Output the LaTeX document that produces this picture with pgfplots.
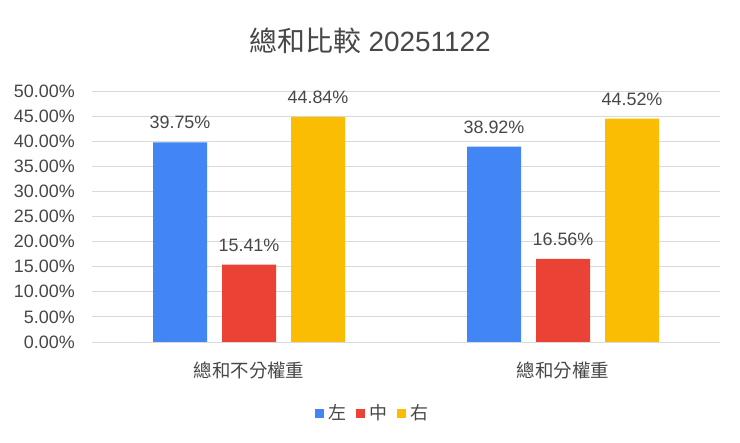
\documentclass[border=0pt]{standalone}
\usepackage{pgfplots}
\pgfplotsset{compat=1.18}
\usepackage{fontspec}
\setmainfont{Liberation Sans}
\newfontfamily\cjk{Noto Sans CJK TC}
\definecolor{cblue}{HTML}{4285F4}
\definecolor{cred}{HTML}{EA4335}
\definecolor{cyellow}{HTML}{FBBC04}
\definecolor{txt}{HTML}{474747}
\definecolor{gridc}{HTML}{D9D9D9}
\begin{document}
\begin{tikzpicture}[x=1bp,y=1bp]
\useasboundingbox[fill=white] (0,0) rectangle (740,443);
\node[text=txt,font=\fontsize{28}{32}\selectfont] at (370,402) {{\cjk 總和比較} 20251122};
\begin{axis}[
  at={(92bp,101bp)}, anchor=south west,
  scale only axis, width=628bp, height=251bp,
  xmin=-0.5, xmax=1.5, ymin=0, ymax=50,
  ytick={0,5,...,50},
  xtick={0,1},
  xticklabels={{\cjk 總和不分權重},{\cjk 總和分權重}},
  axis line style={draw=none},
  major tick length=0pt,
  ymajorgrids, grid style={gridc, line width=0.8bp},
  ybar=15bp, bar width=54bp,
  clip=false,
  /pgf/number format/assume math mode=true,
  yticklabel={\pgfmathprintnumber[fixed,fixed zerofill,precision=2]{\tick}\%},
  yticklabel style={text=txt, font=\fontsize{18}{20}\selectfont, anchor=east, inner sep=0pt, xshift=-17bp},
  xticklabel style={text=txt, font=\fontsize{18.5}{20}\selectfont, anchor=center, inner sep=0pt, yshift=-28bp},
  nodes near coords={\pgfmathprintnumber[fixed,fixed zerofill,precision=2]{\pgfplotspointmeta}\%},
  nodes near coords style={text=txt, font=\fontsize{18}{20}\selectfont, anchor=base, inner sep=0pt, yshift=13.5bp},
  legend columns=3,
  legend style={at={(0.447,-0.283)}, anchor=center, draw=none, fill=none,
    font=\fontsize{18}{20}\selectfont\cjk, text=txt,
    /tikz/every odd column/.append style={column sep=2bp},
    /tikz/every even column/.append style={column sep=8bp}},
  legend image code/.code={\fill[#1] (0bp,-4.5bp) rectangle (9bp,4.5bp);},
]
\addplot[draw=none, fill=cblue] coordinates {(0,39.75) (1,38.92)};
\addplot[draw=none, fill=cred] coordinates {(0,15.41) (1,16.56)};
\addplot[draw=none, fill=cyellow] coordinates {(0,44.84) (1,44.52)};
\legend{左,中,右}
\end{axis}
\end{tikzpicture}
\end{document}
